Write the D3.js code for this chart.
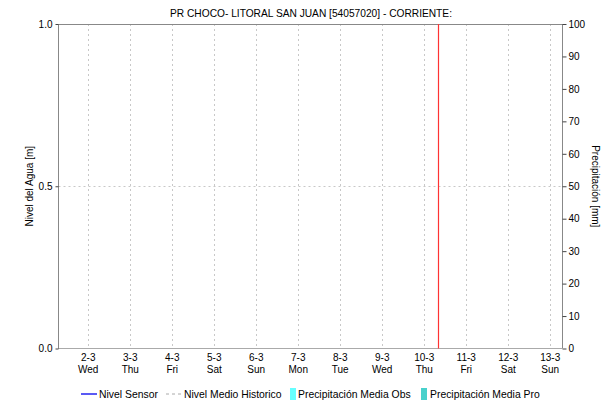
<!DOCTYPE html>
<html><head><meta charset="utf-8">
<script src="https://cdn.jsdelivr.net/npm/d3@7"></script>
<style>
body{margin:0;background:#fff;}
svg text{font-family:"Liberation Sans",Arial,sans-serif;fill:#000;}
</style></head>
<body><svg id="c" width="616" height="404"></svg>
<script>
const title = "PR CHOCO- LITORAL SAN JUAN [54057020] - CORRIENTE:";
const dayTicks = ["2022-03-02","2022-03-03","2022-03-04","2022-03-05","2022-03-06","2022-03-07","2022-03-08","2022-03-09","2022-03-10","2022-03-11","2022-03-12","2022-03-13"];
const dayNames = ["Wed","Thu","Fri","Sat","Sun","Mon","Tue","Wed","Thu","Fri","Sat","Sun"];
const xDomain = ["2022-03-01T07:00","2022-03-13T07:00"];
const nowTime = "2022-03-10T07:40";
const levelTicks = [0, 0.5, 1.0];
const precipTicks = [0,10,20,30,40,50,60,70,80,90,100];
const nivelSensor = [];      // no data shown
const nivelHistorico = [];   // no data shown
const legendItems = ["Nivel Sensor","Nivel Medio Historico","Precipitación Media Obs","Precipitación Media Pro"];

const svg = d3.select("#c");
const L = 58.5, R = 562.5, T = 24, B = 348.5;
const parse = s => new Date(s);
const x = d3.scaleTime().domain(xDomain.map(parse)).range([L, R]);
const yL = d3.scaleLinear().domain([0,1]).range([B, T]);
const yR = d3.scaleLinear().domain([0,100]).range([B, T]);

// title
svg.append("text").attr("x", 311).attr("y", 17).attr("text-anchor","middle")
  .attr("font-size", 10.2).text(title);

// vertical grid
svg.append("g").selectAll("line").data(dayTicks).join("line")
  .attr("x1", d => Math.round(x(parse(d+"T00:00")))+0.5)
  .attr("x2", d => Math.round(x(parse(d+"T00:00")))+0.5)
  .attr("y1", T).attr("y2", B)
  .attr("stroke","#c8c8c8").attr("stroke-dasharray","2,3");

// horizontal grid at 0.5
svg.append("line").attr("x1", L).attr("x2", R)
  .attr("y1", Math.round(yL(0.5))+0.5).attr("y2", Math.round(yL(0.5))+0.5)
  .attr("stroke","#c8c8c8").attr("stroke-dasharray","2,3");

// frame
svg.append("line").attr("x1",L).attr("x2",R).attr("y1",T+0.5).attr("y2",T+0.5).attr("stroke","#888");
svg.append("line").attr("x1",L).attr("x2",L).attr("y1",T).attr("y2",B).attr("stroke","#888");
svg.append("line").attr("x1",R).attr("x2",R).attr("y1",T).attr("y2",B).attr("stroke","#888");
// bottom dotted baseline
svg.append("line").attr("x1",L).attr("x2",R).attr("y1",B).attr("y2",B)
  .attr("stroke","#555").attr("stroke-dasharray","1,1");

// left axis
const gL = svg.append("g").attr("transform",`translate(${L},0)`)
  .call(d3.axisLeft(yL).tickValues(levelTicks).tickFormat(d3.format(".1f")).tickSize(3).tickPadding(3));
gL.select(".domain").remove();
gL.selectAll("line").attr("stroke","#444");
gL.selectAll("text").attr("font-size",10).attr("font-family","Liberation Sans, Arial, sans-serif");

// right axis
const gR = svg.append("g").attr("transform",`translate(${R},0)`)
  .call(d3.axisRight(yR).tickValues(precipTicks).tickSize(4).tickPadding(2));
gR.select(".domain").remove();
gR.selectAll("line").attr("stroke","#444");
gR.selectAll("text").attr("font-size",10).attr("font-family","Liberation Sans, Arial, sans-serif");

// x labels
const gx = svg.append("g");
gx.selectAll("text.d").data(dayTicks).join("text").attr("class","d")
  .attr("x", d => x(parse(d+"T00:00"))).attr("y", 361).attr("text-anchor","middle")
  .attr("font-size",10).text(d => { const t = parse(d+"T00:00"); return t.getDate()+"-"+(t.getMonth()+1); });
gx.selectAll("text.n").data(dayNames).join("text").attr("class","n")
  .attr("x", (d,i) => x(parse(dayTicks[i]+"T00:00"))).attr("y", 373).attr("text-anchor","middle")
  .attr("font-size",10).text(d => d);

// now line
svg.append("line").attr("x1", Math.round(x(parse(nowTime)))+0.5).attr("x2", Math.round(x(parse(nowTime)))+0.5)
  .attr("y1", T).attr("y2", B).attr("stroke","#ff3333").attr("stroke-width",1.2);

// axis titles
svg.append("text").attr("transform",`translate(33,${(T+B)/2}) rotate(-90)`).attr("text-anchor","middle")
  .attr("font-size",10).text("Nivel del Agua [m]");
svg.append("text").attr("transform",`translate(592,${(T+B)/2}) rotate(90)`).attr("text-anchor","middle")
  .attr("font-size",10).text("Precipitación [mm]");

// legend
const lg = svg.append("g");
const ly = 394, fs = 10.4;
lg.append("line").attr("x1",81).attr("x2",97).attr("y1",ly).attr("y2",ly).attr("stroke","#0000ee").attr("stroke-width",1.3);
lg.append("text").attr("x",99).attr("y",ly+4).attr("font-size",fs).text(legendItems[0]);
lg.append("line").attr("x1",166).attr("x2",182).attr("y1",ly).attr("y2",ly).attr("stroke","#aaa").attr("stroke-dasharray","3,3");
lg.append("text").attr("x",184).attr("y",ly+4).attr("font-size",fs).text(legendItems[1]);
lg.append("rect").attr("x",290).attr("y",388).attr("width",6).attr("height",12).attr("fill","#66ffff");
lg.append("text").attr("x",298).attr("y",ly+4).attr("font-size",fs).text(legendItems[2]);
lg.append("rect").attr("x",421).attr("y",388).attr("width",6).attr("height",12).attr("fill","#48d1cc");
lg.append("text").attr("x",430).attr("y",ly+4).attr("font-size",fs).text(legendItems[3]);
</script></body></html>
